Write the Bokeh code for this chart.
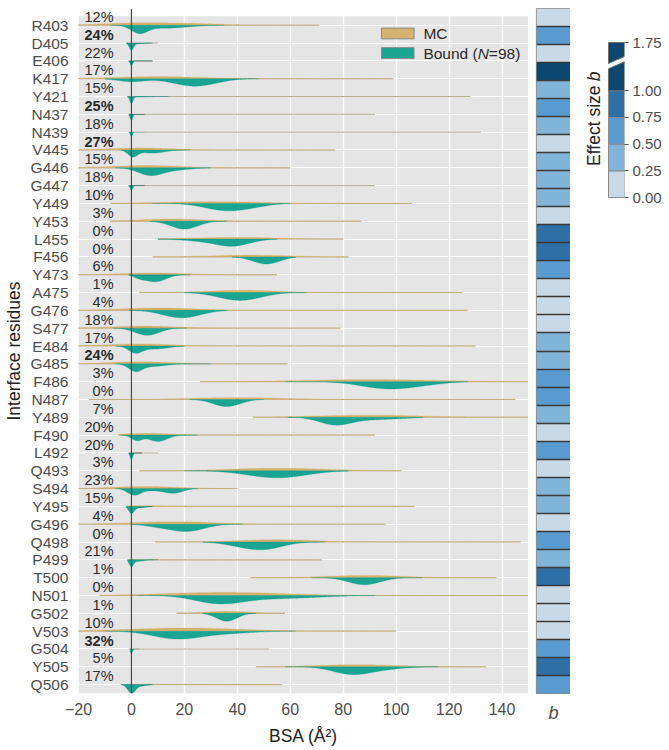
import numpy as np
from bokeh.plotting import figure
from bokeh.models import (Range1d, FactorRange, FixedTicker, Span, Label, LabelSet,
                          ColumnDataSource, BoxAnnotation, LinearColorMapper)
from bokeh.layouts import row
from bokeh.transform import transform
from bokeh.core.properties import value
from bokeh.embed import file_html
from bokeh.resources import INLINE

# ---------------- data ----------------
residues = ["R403", "D405", "E406", "K417", "Y421", "N437", "N439", "V445", "G446", "G447",
            "Y449", "Y453", "L455", "F456", "Y473", "A475", "G476", "S477", "E484", "G485",
            "F486", "N487", "Y489", "F490", "L492", "Q493", "S494", "Y495", "G496", "Q498",
            "P499", "T500", "N501", "G502", "V503", "G504", "Y505", "Q506"]

pct_zero = [12, 24, 22, 17, 15, 25, 18, 27, 15, 18, 10, 3, 0, 0, 6, 1, 4, 18, 17, 24,
            3, 0, 7, 20, 20, 3, 23, 15, 4, 0, 21, 1, 0, 1, 10, 32, 5, 17]

effect_b = [0.12, 0.62, 0.15, 1.45, 0.38, 0.55, 0.42, 0.18, 0.40, 0.36,
            0.44, 0.10, 0.88, 0.82, 0.58, 0.08, 0.14, 0.20, 0.37, 0.45,
            0.63, 0.57, 0.41, 0.16, 0.66, 0.11, 0.34, 0.39, 0.19, 0.60,
            0.43, 0.91, 0.13, 0.17, 0.09, 0.54, 0.79, 0.68]

# density shape of the Bound half: (mode BSA, spread, relative density)
bound_modes = [
    [(3, 3, 0.95), (13, 8, 0.4)],
    [(0, 0.8, 0.9), (2, 2, 0.1)],
    [(0, 0.5, 0.65)],
    [(0, 5, 0.4), (24, 8, 1.0)],
    [(0, 0.6, 0.9), (3, 3, 0.08)],
    [(0, 0.5, 0.8)],
    [(0, 0.4, 0.6)],
    [(0.5, 1.8, 0.85), (8, 4.5, 0.42)],
    [(7, 4.5, 0.95), (16, 6, 0.3)],
    [(0, 0.5, 0.6)],
    [(36, 8, 0.95), (47, 6, 0.2)],
    [(20, 5, 1.05)],
    [(38, 6.5, 0.95), (25, 6, 0.2)],
    [(51, 5, 0.95)],
    [(9, 4, 0.95), (3, 2, 0.3)],
    [(41, 8, 1.05)],
    [(19, 7, 1.0)],
    [(6, 4.5, 0.95)],
    [(1.5, 2.5, 0.85), (9, 5, 0.4)],
    [(1.5, 2.5, 0.9), (8, 5, 0.35)],
    [(97, 10, 0.95), (112, 8, 0.2)],
    [(36, 5, 0.95)],
    [(77, 6, 0.95), (92, 10, 0.3)],
    [(2, 2, 0.7), (10, 3.5, 0.85)],
    [(0, 0.5, 0.85)],
    [(55, 11, 0.95)],
    [(1, 2.5, 0.85), (16, 3.5, 0.6), (8, 4, 0.25)],
    [(0, 1, 0.85), (3, 2.5, 0.2)],
    [(21, 6.5, 0.95), (10, 5, 0.25)],
    [(50, 7, 0.95), (40, 6, 0.3)],
    [(0, 0.8, 0.85), (2.5, 2, 0.2)],
    [(88, 6, 0.95)],
    [(33, 9, 1.0), (55, 15, 0.4)],
    [(36, 3.8, 1.05)],
    [(17, 9, 1.0), (35, 10, 0.3)],
    [(0, 0.4, 0.65)],
    [(83, 7, 0.95), (95, 8, 0.3)],
    [(0, 1.4, 1.05), (3, 2.5, 0.2)],
]
bound_range = [(-8, 35), (-2, 8), (-1, 8), (-10, 48), (-1.5, 14), (-1, 5), (-1, 5), (-4, 22), (-6, 30), (-1, 5),
               (8, 60), (7, 36), (10, 55), (38, 62), (-1, 22), (20, 66), (-1, 36), (-7, 21), (-6, 20), (-6, 30),
               (58, 127), (22, 50), (59, 110), (-4, 25), (-1, 4), (20, 82), (-6, 25), (-2, 8), (0, 42), (27, 73),
               (-1.5, 10), (68, 110), (2, 92), (27, 47), (-10, 62), (-0.5, 3), (58, 116), (-4, 8)]

# density shape of the MC half
mc_modes = [
    [(3, 13, 0.8), (25, 10, 0.4)],
    [], [],
    [(10, 16, 0.7)],
    [], [], [],
    [(3, 11, 0.7)],
    [(6, 13, 0.75)],
    [],
    [(30, 18, 0.6)],
    [(15, 12, 0.75)],
    [(40, 15, 0.55)],
    [(45, 14, 0.6)],
    [(8, 12, 0.6)],
    [(42, 13, 0.75)],
    [(10, 14, 0.8)],
    [(5, 12, 0.7)],
    [(3, 12, 0.7)],
    [(3, 12, 0.7)],
    [(90, 25, 0.7)],
    [(40, 18, 0.6)],
    [(90, 20, 0.7)],
    [(6, 9, 0.6)],
    [],
    [(55, 18, 0.85)],
    [(5, 12, 0.7)],
    [(5, 8, 0.25)],
    [(16, 15, 0.85)],
    [(55, 14, 0.8)],
    [(6, 6, 0.15)],
    [(88, 14, 0.75)],
    [(35, 22, 1.05)],
    [(36, 8, 0.65)],
    [(20, 20, 1.05)],
    [],
    [(85, 15, 0.7)],
    [(5, 8, 0.15)],
]
mc_range = [(-25, 71), (-2, 10), (-1, 8), (-25, 99), (-1, 128), (-1, 92), (-1, 132), (-25, 77), (-25, 60), (-1, 92),
            (-8, 106), (-8, 87), (10, 80), (8, 82), (-25, 55), (3, 125), (-25, 127), (-25, 79), (-25, 130), (-25, 59),
            (26, 152), (-16, 145), (46, 152), (-5, 92), (-1, 10), (3, 102), (-25, 40), (-1, 107), (-25, 96), (9, 147),
            (-1, 72), (45, 138), (-12, 152), (17, 58), (-25, 100), (-1, 52), (47, 134), (-1, 57)]

x_ticks = [-20, 0, 20, 40, 60, 80, 100, 120, 140]
cbar_edges = [0.0, 0.25, 0.5, 0.75, 1.0, 1.75]
cbar_labels = ["0.00", "0.25", "0.50", "0.75", "1.00", "1.75"]

# ---------------- style / layout ----------------
FONT = "Liberation Sans"
TAN = "#D5B36F"
TEAL = "#1AA592"
BLUES = ["#C8DAE7", "#82B4D9", "#5A9BCF", "#2E6FA6", "#0B476E"]
GRAY_BG = "#E5E5E5"
TXT = "#4D4D4D"

N = len(residues)
ypos = np.arange(N)[::-1].astype(float)   # first residue on top

H = 748
ROWS_TOP = 8          # px of the first row band below the main frame top
ROWS_H = 692          # px height of all row bands
B_BOT = H - ROWS_TOP - ROWS_H
FR_L, FR_W = 72, 456
X0, X1 = -20, 150
Y_TOP = (N - 0.5) + ROWS_TOP * N / ROWS_H


def dx(px):   # pixels from frame left -> data x
    return X0 + px * (X1 - X0) / FR_W


def dy(px):   # pixels from frame top -> data y
    return Y_TOP - px * N / ROWS_H


def dens(xg, modes):
    d = np.zeros_like(xg)
    for mu, sd, h in modes:
        d += h * np.exp(-0.5 * ((xg - mu) / sd) ** 2)
    return d


# ---------------- main violin panel ----------------
p = figure(width=FR_L + FR_W, height=H, x_range=Range1d(X0, X1), y_range=Range1d(-0.5, Y_TOP),
           output_backend="svg", toolbar_location=None,
           min_border_left=FR_L, min_border_right=0, min_border_top=0, min_border_bottom=B_BOT)
p.background_fill_color = "white"
p.border_fill_color = "white"
p.outline_line_color = None
p.add_layout(BoxAnnotation(bottom=-0.5, top=N - 0.5, fill_color=GRAY_BG, fill_alpha=1,
                           line_color=None, level="image"))

p.xgrid.ticker = FixedTicker(ticks=x_ticks)
p.xgrid.grid_line_color = "white"
p.xgrid.grid_line_width = 1.4
p.ygrid.ticker = FixedTicker(ticks=list(ypos))
p.ygrid.grid_line_color = "white"
p.ygrid.grid_line_width = 1.2

p.xaxis.ticker = FixedTicker(ticks=x_ticks)
p.xaxis.major_label_overrides = {t: (("\u2212" + str(-t)) if t < 0 else str(t)) for t in x_ticks}
p.yaxis.ticker = FixedTicker(ticks=list(ypos))
p.yaxis.major_label_overrides = {float(y): r for y, r in zip(ypos, residues)}
for ax in (p.xaxis[0], p.yaxis[0]):
    ax.axis_line_color = None
    ax.major_tick_line_color = None
    ax.minor_tick_line_color = None
    ax.major_label_text_font = FONT
    ax.major_label_text_color = TXT
    ax.axis_label_text_font = FONT
    ax.axis_label_text_font_style = "normal"
    ax.axis_label_text_color = "#222222"
    ax.axis_label_text_font_size = "17.5px"
p.xaxis.major_label_text_font_size = "16px"
p.xaxis.major_label_standoff = 3
p.xaxis.axis_label = "BSA (\u00c5\u00b2)"
p.xaxis.axis_label_standoff = 8
p.yaxis.major_label_text_font_size = "15.5px"
p.yaxis.major_label_standoff = 4
p.yaxis.axis_label = "Interface residues"
p.yaxis.axis_label_standoff = 4

# thin baselines of the violins
seg_x0 = [min(a[0], b[0]) for a, b in zip(mc_range, bound_range)]
seg_x1 = [max(a[1], b[1]) for a, b in zip(mc_range, bound_range)]
p.segment(x0=seg_x0, y0=list(ypos), x1=seg_x1, y1=list(ypos), line_color="#B5AC98", line_width=1.0)

A_B, A_MC = 0.42, 0.17
mc_xs, mc_ys, b_xs, b_ys = [], [], [], []
for i in range(N):
    base = ypos[i]
    if mc_modes[i]:
        xg = np.linspace(mc_range[i][0], mc_range[i][1], 500)
        d = dens(xg, mc_modes[i])
        mc_xs.append(np.concatenate([xg, xg[::-1]]).tolist())
        mc_ys.append(np.concatenate([base + A_MC * d, np.full_like(xg, base)]).tolist())
    xg = np.linspace(bound_range[i][0], bound_range[i][1], 500)
    d = dens(xg, bound_modes[i])
    b_xs.append(np.concatenate([xg, xg[::-1]]).tolist())
    b_ys.append(np.concatenate([np.full_like(xg, base), base - A_B * d[::-1]]).tolist())

p.patches(xs=mc_xs, ys=mc_ys, fill_color=TAN, line_color=TAN, line_width=0.3)
p.patches(xs=b_xs, ys=b_ys, fill_color=TEAL, line_color=TEAL, line_width=0.3)

p.add_layout(Span(location=0, dimension="height", line_color="#474747", line_width=1.2))

# percentages
norm_idx = [i for i in range(N) if pct_zero[i] < 24]
bold_idx = [i for i in range(N) if pct_zero[i] >= 24]
for idx, style in ((norm_idx, "normal"), (bold_idx, "bold")):
    src = ColumnDataSource(dict(x=[dx(35.5)] * len(idx),
                                y=[ypos[i] + 0.47 for i in idx],
                                t=[f"{pct_zero[i]}%" for i in idx]))
    p.add_layout(LabelSet(x="x", y="y", text="t", source=src, text_align="right",
                          text_baseline="middle", text_font=value(FONT), text_font_size="14.5px",
                          text_font_style=style, text_color="#2b2b2b"))

# legend (drawn by hand to allow the italic N)
p.add_layout(BoxAnnotation(left=dx(307), right=dx(340), top=dy(20), bottom=dy(31),
                           fill_color=TAN, fill_alpha=1, line_color="#8A8A8A", line_alpha=1, line_width=1))
p.add_layout(BoxAnnotation(left=dx(307), right=dx(340), top=dy(40), bottom=dy(51),
                           fill_color=TEAL, fill_alpha=1, line_color="#8A8A8A", line_alpha=1, line_width=1))
LFS = 15.5
leg_parts = [("MC", "normal", 0, 25.5), ("Bound (", "normal", 0, 45.5), ("N", "italic", 3.502, 45.5),
             ("=98)", "normal", 3.502 + 0.722, 45.5)]
for txt, sty, off_em, ypx in leg_parts:
    p.add_layout(Label(x=dx(349.5), y=dy(ypx), x_offset=off_em * LFS, text=txt, text_font=FONT,
                       text_font_size=f"{LFS}px", text_font_style=sty, text_color="#2b2b2b",
                       text_baseline="middle", text_align="left"))

# ---------------- effect-size column ----------------
mapper = LinearColorMapper(palette=BLUES, low=0, high=1.25, high_color=BLUES[-1], low_color=BLUES[0])
ph = figure(width=8 + 34, height=H, x_range=FactorRange(factors=["b"]), y_range=Range1d(-0.5, N - 0.5),
            output_backend="svg", toolbar_location=None,
            min_border_left=8, min_border_right=0, min_border_top=ROWS_TOP, min_border_bottom=B_BOT)
hsrc = ColumnDataSource(dict(x=["b"] * N, y=list(ypos), b=effect_b))
ph.rect(x="x", y="y", width=1, height=1, source=hsrc, fill_color=transform("b", mapper), line_color=None)
ph.hspan(y=list(ypos[:-1] - 0.5), line_color="#3A3A3A", line_width=1.5)
ph.grid.visible = False
ph.yaxis.visible = False
ph.outline_line_color = "#8C8C8C"
ph.outline_line_width = 1.2
ph.xaxis.axis_line_color = None
ph.xaxis.major_tick_line_color = None
ph.xaxis.minor_tick_line_color = None
ph.xaxis.major_label_text_font = FONT
ph.xaxis.major_label_text_font_style = "italic"
ph.xaxis.major_label_text_font_size = "18px"
ph.xaxis.major_label_text_color = TXT
ph.xaxis.major_label_standoff = 3

# ---------------- colour bar ----------------
PXU = 108.0               # pixels per unit of b on the bar
Y0_PAGE = 199             # pixel row of b = 0
COMP = 0.6                # compression of the broken top bin


def disp(v):
    return v if v <= 1.0 else 1.0 + (v - 1.0) * COMP


CB_L, CB_W, CB_R = 8, 46, 43     # frame spans title + bar; bar occupies its right 16 px
BAR_PX = 16.0
pc = figure(width=CB_L + CB_W + CB_R, height=H,
            x_range=Range1d(-(CB_W - BAR_PX) / BAR_PX, 1.0),
            y_range=Range1d(-(ROWS_TOP + ROWS_H - Y0_PAGE) / PXU, (Y0_PAGE - ROWS_TOP) / PXU),
            y_axis_location="right", output_backend="svg", toolbar_location=None,
            min_border_left=CB_L, min_border_right=CB_R, min_border_top=ROWS_TOP, min_border_bottom=B_BOT)
pc.grid.visible = False
pc.outline_line_color = None
pc.xaxis.visible = False
pc.quad(left=0, right=1, bottom=cbar_edges[:4], top=cbar_edges[1:5], fill_color=BLUES[:4],
        line_color="#8C8C8C", line_width=1)
top_v = disp(cbar_edges[5])
low_v = disp(cbar_edges[4])
g_lo_l, g_lo_r = low_v + 0.205, low_v + 0.27
g_hi_l, g_hi_r = low_v + 0.255, low_v + 0.32
pc.patches(xs=[[0, 1, 1, 0], [0, 1, 1, 0]],
           ys=[[low_v, low_v, g_lo_r, g_lo_l], [g_hi_l, g_hi_r, top_v, top_v]],
           fill_color=BLUES[4], line_color="#6E6E6E", line_width=1)
ticks_disp = [disp(v) for v in cbar_edges]
pc.yaxis.ticker = FixedTicker(ticks=ticks_disp)
pc.yaxis.major_label_overrides = {t: l for t, l in zip(ticks_disp, cbar_labels)}
pc.yaxis.axis_line_color = None
pc.yaxis.minor_tick_line_color = None
pc.yaxis.major_tick_in = 0
pc.yaxis.major_tick_out = 4
pc.yaxis.major_tick_line_color = "#555555"
pc.yaxis.major_label_standoff = 4
pc.yaxis.major_label_text_font = FONT
pc.yaxis.major_label_text_font_size = "15px"
pc.yaxis.major_label_text_color = TXT

EFS = 17.5
EX = -15 / BAR_PX
pc.add_layout(Label(x=EX, y=(Y0_PAGE - 167) / PXU, text="Effect size",
                    angle=np.pi / 2, text_font=FONT, text_font_size=f"{EFS}px", text_color="#222222",
                    text_align="left", text_baseline="middle"))
pc.add_layout(Label(x=EX, y=(Y0_PAGE - 167) / PXU + 4.89 * EFS / PXU, text="b",
                    angle=np.pi / 2, text_font=FONT, text_font_size=f"{EFS}px", text_font_style="italic",
                    text_color="#222222", text_align="left", text_baseline="middle"))

layout = row(p, ph, pc)
open("out.html", "w").write(file_html(layout, INLINE))
